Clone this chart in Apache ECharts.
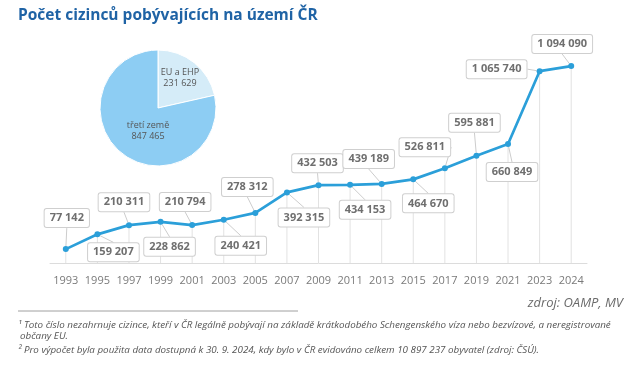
<!DOCTYPE html>
<html>
<head>
<meta charset="utf-8">
<script src="https://cdn.jsdelivr.net/npm/echarts@6/dist/echarts.min.js"></script>
<style>
html,body{margin:0;padding:0;background:#fff;}
#chart{width:639px;height:365px;}
</style>
</head>
<body>
<div id="chart"></div>
<script>
// ---- data ----
var years = ['1993','1995','1997','1999','2001','2003','2005','2007','2009','2011','2013','2015','2017','2019','2021','2023','2024'];
var foreigners = [77142,159207,210311,228862,210794,240421,278312,392315,432503,434153,439189,464670,526811,595881,660849,1065740,1094090];
var pieNames = ['EU a EHP','třetí země'];
var pieValues = [231629,847465];
var title = 'Počet cizinců pobývajících na území ČR';
var sourceText = 'zdroj: OAMP, MV';
var note1 = '¹ Toto číslo nezahrnuje cizince, kteří v ČR legálně pobývají na základě krátkodobého Schengenského víza nebo bezvízové, a neregistrované';
var note1b = 'občany EU.';
var note2 = '² Pro výpočet byla použita data dostupná k 30. 9. 2024, kdy bylo v ČR evidováno celkem 10 897 237 obyvatel (zdroj: ČSÚ).';

// ---- label layout (callout offsets, px) ----
var labelOffsets = [[1,-31],[16,18],[-5,-23],[9,25],[-7,-23],[17,26],[-8,-26],[17,25],[-1,-22],[15,25],[-13,-25],[15,24],[-20,-21],[-2,-33],[4,28],[-43,-2],[-9,-22]];
var pieLabelOffsets = [[2,-5],[10,-2]];

function fmt(v){ return String(v).replace(/\B(?=(\d{3})+(?!\d))/g,' '); }

var chart = echarts.init(document.getElementById('chart'), null, {renderer:'canvas'});
var font = '"Open Sans", "DejaVu Sans", sans-serif';

chart.setOption({
  animation:false,
  textStyle:{fontFamily:font},
  title:{
    text:title, left:18, top:8, padding:0,
    textStyle:{fontFamily:font, fontSize:15.5, fontWeight:'bold', color:'#1f63a5'}
  },
  grid:{left:50, right:52, top:47, bottom:102},
  xAxis:{
    type:'category', data:years, boundaryGap:true,
    axisLine:{lineStyle:{color:'#dcdcdc', width:1}},
    axisTick:{show:false},
    axisLabel:{color:'#7a7a7a', fontSize:11, margin:12, interval:0, fontFamily:font}
  },
  yAxis:{type:'value', min:0, max:1200000, show:false, splitLine:{show:false}},
  series:[
    {
      type:'bar', data:foreigners, barWidth:1, silent:true, z:1,
      itemStyle:{color:'#e2e2e2'}
    },
    {
      type:'line', data:foreigners, z:5,
      symbol:'circle', symbolSize:6,
      lineStyle:{color:'#2b9fd9', width:2.7},
      itemStyle:{color:'#2b9fd9'},
      label:{
        show:true, position:'inside',
        formatter:function(p){ return fmt(p.value); },
        fontFamily:font, fontSize:11, fontWeight:'bold', color:'#6f6f6f',
        backgroundColor:'#fff', borderColor:'#cfcfcf', borderWidth:1, borderRadius:2,
        padding:[3,5,3,5], lineHeight:12
      },
      labelLine:{show:true, lineStyle:{color:'#cccccc', width:1}},
      labelLayout:function(p){
        var o = labelOffsets[p.dataIndex];
        return {dx:o[0], dy:o[1]};
      }
    },
    {
      type:'pie', center:[158,108], radius:58, startAngle:90, clockwise:true,
      data:pieNames.map(function(n,i){ return {name:n, value:pieValues[i]}; }),
      color:['#d5ecf8','#8dcdf3'],
      itemStyle:{borderColor:'#fff', borderWidth:1},
      label:{
        show:true, position:'inside', color:'#555', fontSize:9, lineHeight:11,
        fontFamily:font,
        formatter:function(p){ return p.name + '\n' + fmt(p.value); }
      },
      labelLine:{show:false},
      labelLayout:function(p){
        var o = pieLabelOffsets[p.dataIndex];
        return {dx:o[0], dy:o[1]};
      },
      silent:true
    }
  ],
  graphic:[
    {type:'text', right:16, top:297, style:{text:sourceText, fontFamily:font, fontStyle:'italic', fontSize:13, fill:'#6a6a6a'}},
    {type:'line', shape:{x1:18, y1:311, x2:298, y2:311}, style:{stroke:'#a0a0a0', lineWidth:1}},
    {type:'text', left:18, top:320, style:{text:note1, fontFamily:font, fontStyle:'italic', fontSize:9.8, fill:'#555'}},
    {type:'text', left:20, top:331, style:{text:note1b, fontFamily:font, fontStyle:'italic', fontSize:9.8, fill:'#555'}},
    {type:'text', left:18, top:345, style:{text:note2, fontFamily:font, fontStyle:'italic', fontSize:9.8, fill:'#555'}}
  ]
});
</script>
</body>
</html>
